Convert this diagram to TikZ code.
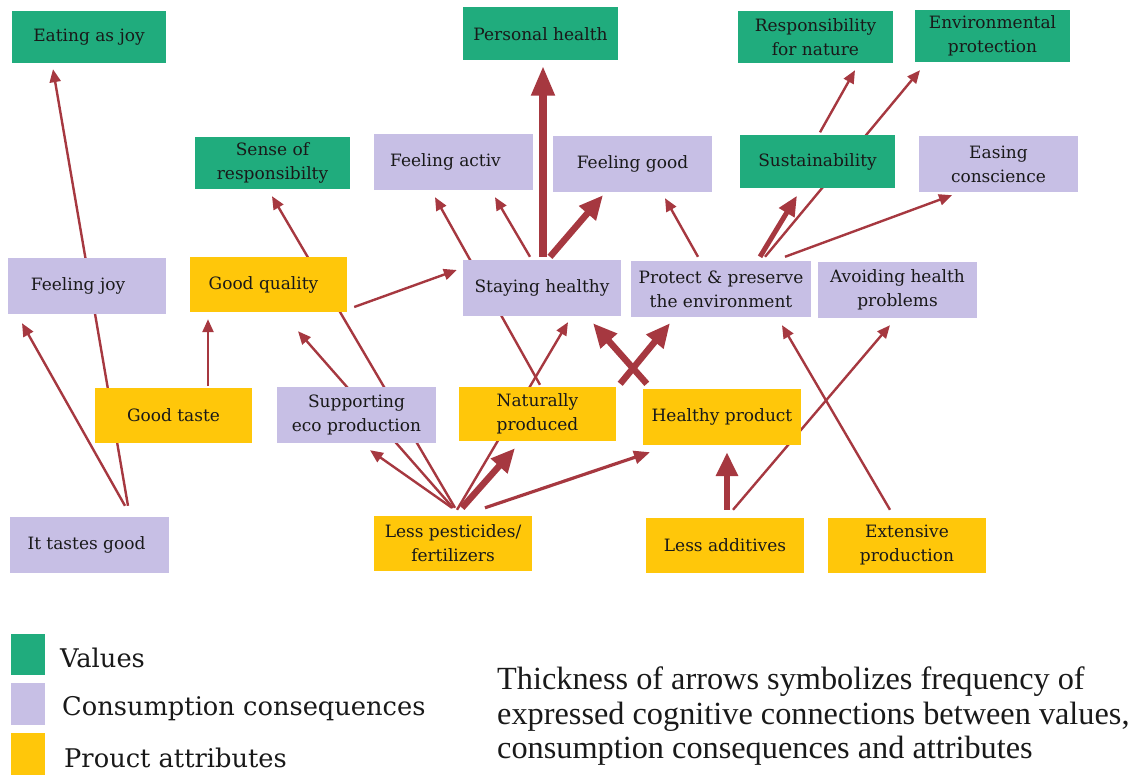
\documentclass[tikz,border=0pt]{standalone}
\usepackage{fontspec}
\setmainfont{DejaVu Serif}
\newfontfamily\notefont{Liberation Serif}
\usetikzlibrary{arrows.meta,calc,backgrounds}

\definecolor{valgreen}{RGB}{32,172,125}
\definecolor{conslav}{RGB}{199,191,229}
\definecolor{attryel}{RGB}{255,199,10}
\definecolor{linkred}{RGB}{166,56,64}
\definecolor{ink}{RGB}{25,25,25}

\begin{document}
\begin{tikzpicture}[x=1pt,y=-1pt,
  dims/.style 2 args={minimum width=#1pt, minimum height=#2pt},
  box/.style={inner sep=0pt, align=center, text=ink, font=\fontsize{17}{24}\selectfont},
  val/.style={box, fill=valgreen},
  con/.style={box, fill=conslav},
  att/.style={box, fill=attryel},
  plainlink/.style={draw=linkred, line width=2.4pt},
  link/.style={plainlink, -{Triangle[length=13pt,width=11pt]}},
  midlink/.style={draw=linkred, line width=3.2pt, -{Triangle[length=16pt,width=13pt]}},
  boldlink/.style={draw=linkred, line width=5pt, -{Triangle[length=20pt,width=17pt]}},
  heavylink/.style={draw=linkred, line width=6.5pt, -{Triangle[length=24pt,width=21pt]}},
  hugelink/.style={draw=linkred, line width=8pt, -{Triangle[length=30pt,width=22pt]}},
  legtext/.style={inner sep=0pt, anchor=base west, text=ink, font=\fontsize{25.7}{30}\selectfont}
]
\useasboundingbox (0,0) rectangle (1148,775);

% values
\node[val, dims={154}{52}] (eaj) at (89,37) {Eating as joy};
\node[val, dims={155}{53}] (ph)  at (540.5,34) {Personal health};
\node[val, dims={155}{52}] (rfn) at (815.5,37) {Responsibility\\for nature};
\node[val, dims={155}{52}] (ep)  at (992.5,36) {Environmental\\protection};
\node[val, dims={155}{52}] (sor) at (272.5,163) {Sense of\\responsibilty};
\node[val, dims={155}{53}] (sus) at (817.5,162) {Sustainability};

% consumption consequences
\node[con, dims={159}{56}] (fa)  at (453.5,162) {\hspace*{-16pt}Feeling activ};
\node[con, dims={159}{56}] (fg)  at (632.5,164) {Feeling good};
\node[con, dims={159}{56}] (ec)  at (998.5,164) {Easing\\conscience};
\node[con, dims={158}{56}] (fj)  at (87,286) {\hspace*{-18pt}Feeling joy};
\node[con, dims={158}{56}] (sh)  at (542,288) {Staying healthy};
\node[con, dims={180}{56}] (pp)  at (721,289) {Protect \& preserve\\the environment};
\node[con, dims={159}{56}] (ahp) at (897.5,290) {Avoiding health\\problems};
\node[con, dims={159}{56}] (sep) at (356.5,415) {Supporting\\eco production};
\node[con, dims={159}{56}] (itg) at (89.5,545) {\hspace*{-6pt}It tastes good};

% product attributes
\node[att, dims={157}{55}] (gq)  at (268.5,284.5) {\hspace*{-10pt}Good quality};
\node[att, dims={157}{55}] (gt)  at (173.5,415.5) {Good taste};
\node[att, dims={157}{54}] (np)  at (537.5,414) {Naturally\\produced};
\node[att, dims={158}{56}] (hp)  at (722,417) {Healthy product};
\node[att, dims={158}{55}] (lp)  at (453,543.5) {Less pesticides/\\fertilizers};
\node[att, dims={158}{55}] (la)  at (725,545.5) {Less additives};
\node[att, dims={158}{55}] (ext) at (907,545.5) {Extensive\\production};

% connections, kept behind the boxes
\begin{scope}[on background layer]
  \draw[link] ($(itg.north)+(38.5,-11)$) -- ($(eaj.south)+(-36,6)$);
  \draw[link] ($(itg.north)+(35.5,-11)$) -- ($(fj.south)+(-65,9)$);
  \draw[link] ($(gt.north)+(34.5,-2)$) -- ($(gq.south)+(-60.5,7)$);
  \draw[link] ($(gq.east)+(7,22.5)$) -- ($(sh.west)+(-6,-18)$);
  \draw[link] ($(lp.north)+(-1,-8)$) -- ($(sep.south)+(13.5,7)$);
  \draw[link] ($(lp.north)+(0,-8)$) -- ($(gq.south)+(29.5,19)$);
  \draw[link] ($(lp.north)+(2,-8)$) -- ($(sor.south)+(-0.5,7)$);
  \draw[link] ($(lp.north)+(4,-6)$) -- ($(sh.south)+(26,6)$);
  \draw[heavylink] ($(lp.north)+(9,-8)$) -- ($(np.south)+(-22.5,7)$);
  \draw[midlink] ($(lp.north)+(32,-8)$) -- ($(hp.south)+(-72,7)$);
  \draw[link] ($(np.north)+(2.5,-2)$) -- ($(fa.south)+(-18.5,7)$);
  \draw[link] ($(sh.north)+(-12,-3)$) -- ($(fa.south)+(41.5,7)$);
  \draw[hugelink] ($(sh.north)+(1,-3)$) -- ($(ph.south)+(2.5,5)$);
  \draw[heavylink] ($(sh.north)+(8,-3)$) -- ($(fg.south)+(-29.5,3)$);
  \draw[heavylink] ($(hp.north west)+(4,-5)$) -- ($(sh.south)+(51,7)$);
  \draw[heavylink] ($(np.north east)+(4,-3)$) -- ($(pp.south)+(-51,6)$);
  \draw[link] ($(pp.north)+(-23,-4)$) -- ($(fg.south)+(32.5,6)$);
  \draw[boldlink] ($(pp.north)+(39,-4)$) -- ($(sus.south)+(-20.5,7)$);
  \draw[link] ($(pp.north)+(44,-4)$) -- ($(ep.south)+(-72.5,8)$);
  \draw[link] ($(pp.north)+(64,-4)$) -- ($(ec.south)+(-46.5,3)$);
  \draw[link] ($(sus.north)+(2.5,-3)$) -- ($(rfn.south)+(39.5,7)$);
  \draw[heavylink] ($(la.north)+(2,-8)$) -- ($(hp.south)+(5,7)$);
  \draw[link] ($(la.north)+(8,-8)$) -- ($(ahp.south)+(-7.5,7)$);
  \draw[link] ($(ext.north)+(-17,-8)$) -- ($(pp.south)+(61,8)$);
\end{scope}

% legend
\node[inner sep=0pt, fill=valgreen, dims={34}{41}] (legval) at (28,654.5) {};
\node[inner sep=0pt, fill=conslav, dims={34}{42}] (legcon) at (28,704) {};
\node[inner sep=0pt, fill=attryel, dims={34}{42}] (legatt) at (28,754) {};
\node[legtext] (legvaltext) at (60,667) {Values};
\node[legtext] (legcontext) at (62,715) {Consumption consequences};
\node[legtext] (legatttext) at (64,767) {Prouct attributes};

\node[inner sep=0pt, anchor=west, align=left, text=ink,
      font=\notefont\fontsize{32.3}{34.5}\selectfont] (note) at (497,716.3)
  {Thickness of arrows symbolizes frequency of\\
   expressed cognitive connections between values,\\
   consumption consequences and attributes};
\end{tikzpicture}
\end{document}
